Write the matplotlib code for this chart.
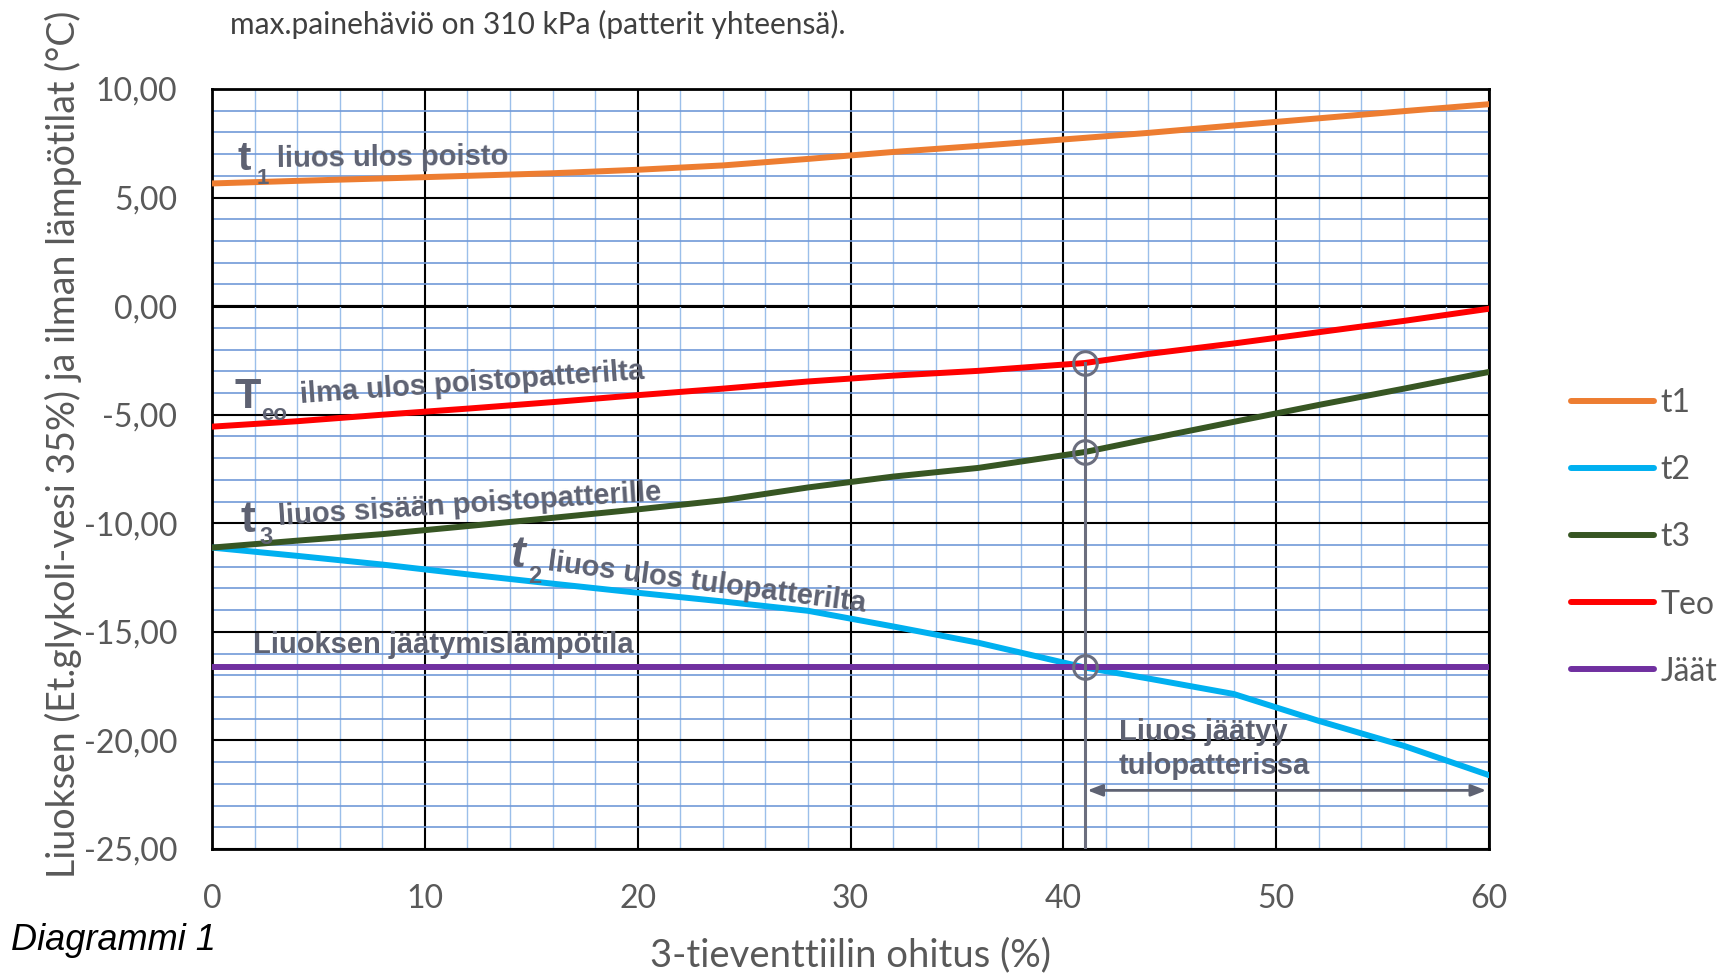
import numpy as np
import matplotlib
matplotlib.use('Agg')
import matplotlib.pyplot as plt
from matplotlib.ticker import MultipleLocator, FuncFormatter

# datat (luettu kuvasta)
ohitus = [0, 4, 8, 12, 16, 20, 24, 28, 32, 36, 41, 44, 48, 52, 56, 60]
t1 = [5.65, 5.77, 5.88, 6.00, 6.12, 6.28, 6.48, 6.78, 7.10, 7.38, 7.75, 7.98, 8.32, 8.65, 8.98, 9.30]
t2 = [-11.12, -11.50, -11.90, -12.35, -12.78, -13.20, -13.60, -14.03, -14.75, -15.50, -16.64, -17.15, -17.86, -19.10, -20.25, -21.60]
t3 = [-11.12, -10.80, -10.50, -10.13, -9.75, -9.36, -8.94, -8.35, -7.85, -7.45, -6.72, -6.12, -5.33, -4.55, -3.80, -3.03]
teo = [-5.55, -5.30, -5.00, -4.72, -4.42, -4.10, -3.80, -3.47, -3.20, -2.98, -2.62, -2.20, -1.72, -1.20, -0.68, -0.12]
jaat_x = [0, 60]
jaat = [-16.64, -16.64]

x_jaatyy = 41          # ohitus jossa liuos alkaa jäätyä
y_nuoli = -22.3

# värit
c_t1 = '#ED7D31'
c_t2 = '#00B0F0'
c_t3 = '#375623'
c_teo = '#FF0000'
c_jaat = '#7030A0'
c_label = '#5E6272'
c_axis = '#595959'

calibri = ['Lato', 'DejaVu Sans']
arial = ['Liberation Sans', 'DejaVu Sans']

fig = plt.figure(figsize=(17.22, 9.75), dpi=100)
ax = fig.add_axes([212/1722, 1 - 849/975, 1277/1722, 760/975])

ax.set_xlim(0, 60)
ax.set_ylim(-25, 10)

# ruudukko
ax.xaxis.set_major_locator(MultipleLocator(10))
ax.xaxis.set_minor_locator(MultipleLocator(2))
ax.yaxis.set_major_locator(MultipleLocator(5))
ax.yaxis.set_minor_locator(MultipleLocator(1))
ax.grid(which='minor', axis='x', color='#9BBFEA', lw=1.0, zorder=0)
ax.grid(which='minor', axis='y', color='#7199D8', lw=1.2, zorder=0)
ax.grid(which='major', color='black', lw=1.5, zorder=1)
ax.axhline(0, color='black', lw=2.2, zorder=1)
for s in ax.spines.values():
    s.set_linewidth(2)
    s.set_zorder(3)

ax.tick_params(which='both', length=0)
ax.tick_params(axis='y', pad=25, labelsize=23, labelcolor=c_axis)
ax.tick_params(axis='x', pad=25, labelsize=23, labelcolor=c_axis)
ax.yaxis.set_major_formatter(FuncFormatter(lambda v, p: f'{v:.2f}'.replace('.', ',')))
for lab in ax.get_xticklabels() + ax.get_yticklabels():
    lab.set_family(calibri)

# sarjat
lw = 4.3
ax.plot(ohitus, t1, color=c_t1, lw=lw, label='t1', zorder=4, solid_capstyle='round')
ax.plot(ohitus, t2, color=c_t2, lw=lw, label='t2', zorder=4, solid_capstyle='round')
ax.plot(ohitus, t3, color=c_t3, lw=lw, label='t3', zorder=4, solid_capstyle='round')
ax.plot(ohitus, teo, color=c_teo, lw=lw, label='Teo', zorder=4, solid_capstyle='round')
ax.plot(jaat_x, jaat, color=c_jaat, lw=lw, label='Jäät', zorder=4, solid_capstyle='round')

# pystyviiva ja ympyrät kohdassa 41 %
i = ohitus.index(x_jaatyy)
ax.plot([x_jaatyy, x_jaatyy], [teo[i], -25], color='#6B6E7E', lw=2.2, zorder=5)
ax.plot([x_jaatyy] * 3, [teo[i], t3[i], jaat[0]], ls='none', marker='o', ms=17,
        mfc='none', mec='#6B6E7E', mew=2.2, zorder=6)

# nuoli
ax.annotate('', xy=(60, y_nuoli), xytext=(x_jaatyy, y_nuoli),
            arrowprops=dict(arrowstyle='<|-|>,head_length=0.9,head_width=0.35',
                            color='#5E6272', lw=2), zorder=6)

# selitetekstit
lab_kw = dict(color=c_label, fontweight='bold', family=arial, zorder=7)
ax.text(1.18, 6.27, 't', fontsize=29, ha='left', va='baseline', **lab_kw)
ax.text(2.1, 5.62, '1', fontsize=16, ha='left', va='baseline', **lab_kw)
ax.text(3.05, 6.41, 'liuos ulos poisto', fontsize=21, rotation=0.6,
        rotation_mode='anchor', ha='left', va='baseline', **lab_kw)

ax.text(1.08, -4.69, 'T', fontsize=31, ha='left', va='baseline', **lab_kw)
ax.text(2.3, -5.25, 'eo', fontsize=16, ha='left', va='baseline', **lab_kw)
ax.text(4.14, -4.46, 'ilma ulos poistopatterilta', fontsize=21, rotation=4.0,
        rotation_mode='anchor', ha='left', va='baseline', **lab_kw)

ax.text(1.35, -10.4, 't', fontsize=32, ha='left', va='baseline', **lab_kw)
ax.text(2.25, -10.95, '3', fontsize=17, ha='left', va='baseline', **lab_kw)
ax.text(3.15, -10.08, 'liuos sisään poistopatterille', fontsize=21, rotation=3.7,
        rotation_mode='anchor', ha='left', va='baseline', **lab_kw)

ax.text(14.0, -12.02, 't', fontsize=32, ha='left', va='baseline', style='italic', **lab_kw)
ax.text(14.85, -12.75, '2', fontsize=17, ha='left', va='baseline', **lab_kw)
ax.text(15.75, -12.15, 'liuos ulos tulopatterilta', fontsize=21, rotation=-7.5,
        rotation_mode='anchor', ha='left', va='baseline', **lab_kw)

ax.text(1.93, -15.98, 'Liuoksen jäätymislämpötila', fontsize=21, ha='left',
        va='baseline', **lab_kw)
ax.text(42.6, -19.99, 'Liuos jäätyy', fontsize=21, ha='left', va='baseline', **lab_kw)
ax.text(42.6, -21.55, 'tulopatterissa', fontsize=21, ha='left', va='baseline', **lab_kw)

# akselien otsikot
ax.set_xlabel('3-tieventtiilin ohitus (%)', fontsize=27.5, color=c_axis, family=calibri, va='top')
ax.xaxis.set_label_coords(0.5, -0.116)
ax.set_ylabel('Liuoksen (Et.glykoli-vesi 35%) ja ilman lämpötilat (°C)', fontsize=27,
              color=c_axis, family=calibri, va='center')
ax.yaxis.set_label_coords(-0.1167, 0.532)

# selite
leg = ax.legend(loc='center left', bbox_to_anchor=(1571/1722, 1 - 537.5/975),
                bbox_transform=fig.transFigure, frameon=False,
                handlelength=2.6, handletextpad=0.2, labelspacing=1.16,
                borderpad=0, borderaxespad=0, prop=dict(family=calibri, size=23))
for txt in leg.get_texts():
    txt.set_color(c_axis)

fig.text(230/1722, 1 - 24/975, 'max.painehäviö on 310 kPa (patterit yhteensä).',
         fontsize=21.5, color='#404040', family=calibri, ha='left', va='center')
fig.text(11/1722, 1 - 941/975, 'Diagrammi 1', fontsize=26, style='italic',
         color='black', family=arial, ha='left', va='center')

fig.savefig('out.png', dpi=100)
